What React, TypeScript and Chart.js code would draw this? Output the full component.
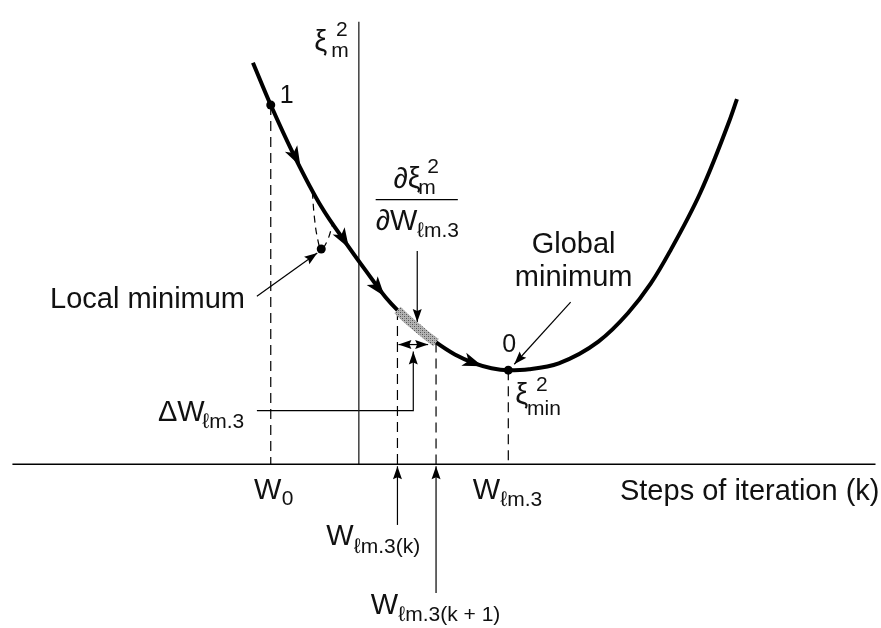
import React, { useEffect, useRef } from "react";
import { Chart, registerables } from "chart.js";

Chart.register(...registerables);

// ---- data (abstract units: x = weight, y = squared error) ----
const curveX = [-1.07, -0.89, -0.65, -0.38, -0.13, 0.07, 0.27, 0.39, 0.59, 0.77, 0.97, 1.17, 1.34, 1.51, 1.72, 2.02, 2.42, 2.72, 2.95, 3.14, 3.45, 3.74, 3.82];
const curveY = [4.075, 3.645, 3.125, 2.615, 2.245, 1.965, 1.695, 1.565, 1.385, 1.245, 1.115, 1.025, 0.975, 0.955, 0.965, 1.025, 1.245, 1.535, 1.835, 2.155, 2.755, 3.475, 3.705];

const shadedX = [0.39, 0.49, 0.59, 0.68, 0.78];
const shadedY = [1.565, 1.47, 1.385, 1.31, 1.235];

const localArcX = [-0.47, -0.45, -0.42, -0.38, -0.32, -0.26];
const localArcY = [2.765, 2.515, 2.305, 2.185, 2.265, 2.455];

const markX = [-0.89, -0.38, 1.51];
const markY = [3.645, 2.185, 0.955];

const dropX = [-0.89, 0.39, 0.78, 1.51];
const dropTop = [3.645, 1.565, 1.235, 0.955];

const axisXRange = [-3.5, 5.22];
const axisYRange = [0, 4.49];
const fractionBarX = [0.17, 1.0];
const fractionBarY = 2.685;

// curve direction arrows: [tailX, tailY, tipX, tipY]
const curveArrows = [
  [-0.68, 3.195, -0.59, 3.025],
  [-0.19, 2.345, -0.1, 2.195],
  [0.15, 1.845, 0.26, 1.705],
  [1.09, 1.055, 1.25, 0.995],
];

// leader lines (polylines), arrow at last point; "both" adds one at the first point
const leaders = [
  { xs: [-1.03, -0.42], ys: [1.705, 2.145], both: false },
  { xs: [0.59, 0.59], ys: [2.165, 1.445], both: false },
  { xs: [0.4, 0.7], ys: [1.215, 1.215], both: true },
  { xs: [-1.03, 0.55, 0.55], ys: [0.545, 0.545, 1.145], both: false },
  { xs: [2.14, 1.57], ys: [1.645, 1.015], both: false },
  { xs: [0.39, 0.39], ys: [-0.615, -0.02], both: false },
  { xs: [0.78, 0.78], ys: [-1.305, -0.02], both: false },
];

// labels: text, x, y (baseline), font size, alignment
const labels: [string, number, number, number, CanvasTextAlign][] = [
  ["ξ", -0.45, 4.195, 29, "left"],
  ["m", -0.28, 4.135, 21, "left"],
  ["2", -0.23, 4.345, 21, "left"],
  ["1", -0.8, 3.665, 25, "left"],
  ["Local minimum", -1.15, 1.585, 29, "right"],
  ["∂ξ", 0.35, 2.805, 29, "left"],
  ["m", 0.6, 2.745, 21, "left"],
  ["2", 0.69, 2.955, 21, "left"],
  ["∂W", 0.17, 2.375, 29, "left"],
  ["ℓm.3", 0.59, 2.305, 21, "left"],
  ["Global", 2.17, 2.145, 29, "center"],
  ["minimum", 2.17, 1.805, 29, "center"],
  ["0", 1.45, 1.135, 25, "left"],
  ["ξ", 1.58, 0.615, 29, "left"],
  ["2", 1.79, 0.745, 21, "left"],
  ["min", 1.7, 0.505, 21, "left"],
  ["ΔW", -2.03, 0.435, 29, "left"],
  ["ℓm.3", -1.58, 0.365, 21, "left"],
  ["W", -1.06, -0.355, 29, "left"],
  ["0", -0.78, -0.415, 21, "left"],
  ["W", 1.15, -0.355, 29, "left"],
  ["ℓm.3", 1.43, -0.425, 21, "left"],
  ["Steps of iteration (k)", 5.26, -0.365, 29, "right"],
  ["W", -0.33, -0.815, 29, "left"],
  ["ℓm.3(k)", -0.05, -0.895, 21, "left"],
  ["W", 0.12, -1.515, 29, "left"],
  ["ℓm.3(k + 1)", 0.4, -1.585, 21, "left"],
];

const X_MIN = -3.58;
const X_MAX = 5.23;
const Y_MIN = -1.615;
const Y_MAX = 4.665;

const FONT = '"Liberation Sans", Arial, Helvetica, sans-serif';

const pts = (xs: number[], ys: number[]) => xs.map((x, i) => ({ x, y: ys[i] }));

function head(ctx: CanvasRenderingContext2D, fx: number, fy: number, tx: number, ty: number, L: number, W: number, n: number) {
  const a = Math.atan2(ty - fy, tx - fx);
  ctx.save();
  ctx.translate(tx, ty);
  ctx.rotate(a);
  ctx.beginPath();
  ctx.moveTo(0, 0);
  ctx.lineTo(-L, -W);
  ctx.lineTo(-L + n, 0);
  ctx.lineTo(-L, W);
  ctx.closePath();
  ctx.fillStyle = "#000";
  ctx.fill();
  ctx.restore();
}

function stipple(): CanvasPattern | string {
  const c = document.createElement("canvas");
  c.width = 4;
  c.height = 4;
  const g = c.getContext("2d");
  if (!g) return "#9a9a9a";
  g.fillStyle = "#b4b4b4";
  g.fillRect(0, 0, 4, 4);
  g.fillStyle = "#555";
  g.fillRect(0, 0, 1, 1);
  g.fillRect(2, 2, 1, 1);
  g.fillStyle = "#888";
  g.fillRect(2, 0, 1, 1);
  g.fillRect(0, 2, 1, 1);
  const p = g.createPattern(c, "repeat");
  return p || "#9a9a9a";
}

const decorPlugin = {
  id: "decor",
  afterDatasetsDraw(chart: any) {
    const ctx: CanvasRenderingContext2D = chart.ctx;
    const xs = chart.scales.x;
    const ys = chart.scales.y;
    const px = (v: number) => xs.getPixelForValue(v);
    const py = (v: number) => ys.getPixelForValue(v);
    ctx.save();
    curveArrows.forEach(([a, b, c, d]) => head(ctx, px(a), py(b), px(c), py(d), 20, 7, 5));
    leaders.forEach((l) => {
      const n = l.xs.length;
      head(ctx, px(l.xs[n - 2]), py(l.ys[n - 2]), px(l.xs[n - 1]), py(l.ys[n - 1]), 13, 4.5, 2);
      if (l.both) head(ctx, px(l.xs[1]), py(l.ys[1]), px(l.xs[0]), py(l.ys[0]), 13, 4.5, 2);
    });
    ctx.fillStyle = "#111";
    ctx.textBaseline = "alphabetic";
    labels.forEach(([t, x, y, s, al]) => {
      ctx.font = `${s}px ${FONT}`;
      ctx.textAlign = al;
      ctx.fillText(t, px(x), py(y));
    });
    ctx.restore();
  },
};

export default function App() {
  const ref = useRef<HTMLCanvasElement | null>(null);
  useEffect(() => {
    if (!ref.current) return;
    const thin = (data: any[], extra: any = {}) => ({
      data,
      showLine: true,
      pointRadius: 0,
      borderColor: "#000",
      borderWidth: 1.3,
      fill: false,
      clip: false,
      ...extra,
    });
    const datasets: any[] = [
      thin(pts(markX, markY), { showLine: false, pointRadius: 4.5, pointBackgroundColor: "#000", pointBorderWidth: 0, order: 0 }),
      thin(pts(shadedX, shadedY), { borderColor: stipple(), borderWidth: 9, borderCapStyle: "butt", cubicInterpolationMode: "monotone", order: 1 }),
      thin(pts(curveX, curveY), { borderWidth: 4, cubicInterpolationMode: "monotone", order: 2 }),
      thin(pts(localArcX, localArcY), { borderDash: [7, 5], borderWidth: 1.2, tension: 0.4, order: 3 }),
      thin(pts(axisXRange, [0, 0]), { borderWidth: 1.5, order: 4 }),
      thin(pts([0, 0], axisYRange), { borderWidth: 1.3, borderColor: "#222", order: 4 }),
      thin(pts(fractionBarX, [fractionBarY, fractionBarY]), { borderWidth: 1.3, order: 4 }),
      ...dropX.map((x, i) => thin(pts([x, x], [dropTop[i], 0]), { borderDash: [10, 6], borderWidth: 1.2, order: 5 })),
      ...leaders.map((l) => thin(pts(l.xs, l.ys), { borderWidth: 1.2, order: 5 })),
    ];
    const chart = new Chart(ref.current, {
      type: "scatter",
      data: { datasets },
      options: {
        animation: false,
        responsive: true,
        maintainAspectRatio: false,
        events: [],
        layout: { padding: 0 },
        plugins: { legend: { display: false }, tooltip: { enabled: false } },
        scales: {
          x: { type: "linear", min: X_MIN, max: X_MAX, display: false },
          y: { type: "linear", min: Y_MIN, max: Y_MAX, display: false },
        },
      },
      plugins: [decorPlugin],
    } as any);
    return () => chart.destroy();
  }, []);
  return (
    <div style={{ position: "fixed", left: 0, top: 0, width: 881, height: 628, background: "#fff" }}>
      <canvas ref={ref} />
    </div>
  );
}
